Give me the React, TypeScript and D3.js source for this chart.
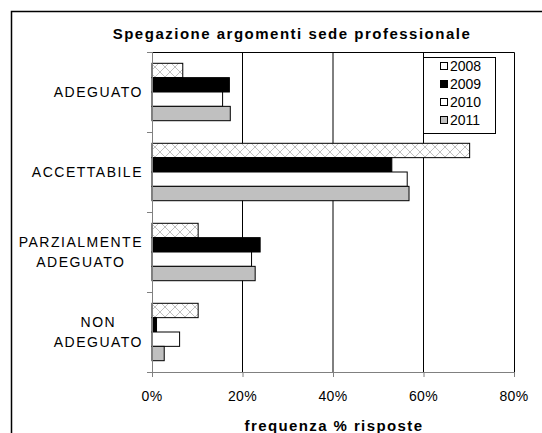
import React from "react";
import * as d3 from "d3";

const categories: string[][] = [
  ["ADEGUATO"],
  ["ACCETTABILE"],
  ["PARZIALMENTE", "ADEGUATO"],
  ["NON", "ADEGUATO"],
];
const years = ["2008", "2009", "2010", "2011"];
const v2008 = [6.8, 70.2, 10.2, 10.2];
const v2009 = [17.1, 53.0, 23.9, 1.0];
const v2010 = [15.6, 56.4, 22.0, 6.1];
const v2011 = [17.3, 56.8, 22.8, 2.7];
const xTicks = [0, 20, 40, 60, 80];
const title = "Spegazione argomenti sede professionale";
const xTitle = "frequenza % risposte";

const seriesValues = [v2008, v2009, v2010, v2011];
const fills = ["url(#hatch)", "#000000", "#ffffff", "#c0c0c0"];
const FONT = "'Liberation Sans', Arial, sans-serif";

function measure(text: string, font: string, ls: number): number {
  const c = document.createElement("canvas");
  const ctx = c.getContext("2d");
  if (!ctx) return text.length * 7;
  ctx.font = font;
  return ctx.measureText(text).width + ls * text.length;
}

export default function App() {
  const W = 542, H = 433;
  const left = 152, right = 514, top = 52, bottom = 372;
  const x = d3.scaleLinear().domain([0, 80]).range([left, right]);
  const keys = categories.map((c) => c.join(" "));
  const y = d3.scaleBand<string>().domain(keys).range([top, bottom]).padding(0);
  const yi = d3.scaleBand<string>().domain(years).range([11.3, 68.7]).padding(0);
  const labelSize = 14;
  const labelFont = `${labelSize}px ${FONT}`;
  const labelLS = 1.5;
  const labelRight = 143;

  return (
    <svg width={W} height={H} style={{ position: "absolute", left: 0, top: 0 }} fontFamily={FONT}>
      <defs>
        <pattern id="hatch" patternUnits="userSpaceOnUse" width="10" height="10">
          <rect width="10" height="10" fill="#ffffff" />
          <path d="M0,0 L10,10 M10,0 L0,10" stroke="#c0c0c0" strokeWidth="1" />
        </pattern>
      </defs>
      <rect x={0} y={0} width={W} height={H} fill="#ffffff" />
      {/* outer chart border */}
      <path d={`M11.5,${H + 5} L11.5,11.5 L${W + 5},11.5`} fill="none" stroke="#000" strokeWidth={1.5} />
      <text x={292} y={39} textAnchor="middle" fontWeight="bold" fontSize={15} letterSpacing={1.5}>
        {title}
      </text>
      {/* gridlines */}
      {xTicks.slice(1, -1).map((t) => (
        <line key={t} x1={x(t)} x2={x(t)} y1={top} y2={bottom} stroke="#000" strokeWidth={1} />
      ))}
      {/* plot border top and right */}
      <path d={`M${left},${top + 0.5} L${right + 0.5},${top + 0.5} L${right + 0.5},${bottom}`} fill="none" stroke="#000" strokeWidth={1} />
      {/* bars */}
      {keys.map((k, ci) => (
        <g key={k} transform={`translate(0,${y(k)})`}>
          {years.map((yr, si) => (
            <rect
              key={yr}
              x={x(0)}
              y={yi(yr)}
              width={x(seriesValues[si][ci]) - x(0)}
              height={yi.bandwidth()}
              fill={fills[si]}
              stroke="#000"
              strokeWidth={1}
            />
          ))}
        </g>
      ))}
      {/* axes */}
      <line x1={left + 0.5} x2={left + 0.5} y1={top} y2={bottom + 4} stroke="#808080" strokeWidth={1} />
      <line x1={left - 5} x2={right + 1} y1={bottom + 0.5} y2={bottom + 0.5} stroke="#808080" strokeWidth={1} />
      {[...keys.map((k) => y(k) as number), bottom].map((yy, i) => (
        <line key={i} x1={left - 5} x2={left} y1={yy + 0.5} y2={yy + 0.5} stroke="#808080" />
      ))}
      {xTicks.map((t) => (
        <g key={t}>
          <line x1={x(t) + 0.5} x2={x(t) + 0.5} y1={bottom} y2={bottom + 5} stroke="#808080" />
          <text x={x(t)} y={401} textAnchor="middle" fontSize={14} letterSpacing={0.4}>
            {t}%
          </text>
        </g>
      ))}
      {/* category labels */}
      {categories.map((lines, ci) => {
        const maxW = Math.max(...lines.map((l) => measure(l, labelFont, labelLS)));
        const cx = labelRight - maxW / 2;
        const cy = (y(keys[ci]) as number) + y.bandwidth() / 2;
        const lh = 20.5;
        return (
          <text key={ci} fontSize={labelSize} letterSpacing={labelLS} textAnchor="middle">
            {lines.map((l, li) => (
              <tspan key={li} x={cx} y={cy + (li - (lines.length - 1) / 2) * lh + 5}>
                {l}
              </tspan>
            ))}
          </text>
        );
      })}
      <text x={334} y={431} textAnchor="middle" fontWeight="bold" fontSize={15} letterSpacing={1.4}>
        {xTitle}
      </text>
      {/* legend */}
      <rect x={423.5} y={57.5} width={72} height={76} fill="#fff" stroke="#000" strokeWidth={1} />
      {years.map((yr, i) => (
        <g key={yr} transform={`translate(440,${66 + i * 18})`}>
          <rect x={0.5} y={-3.5} width={7} height={7} fill={i === 0 ? "#ffffff" : fills[i]} stroke="#000" />
          <text x={10} y={5} fontSize={14} letterSpacing={0}>
            {yr}
          </text>
        </g>
      ))}
    </svg>
  );
}
